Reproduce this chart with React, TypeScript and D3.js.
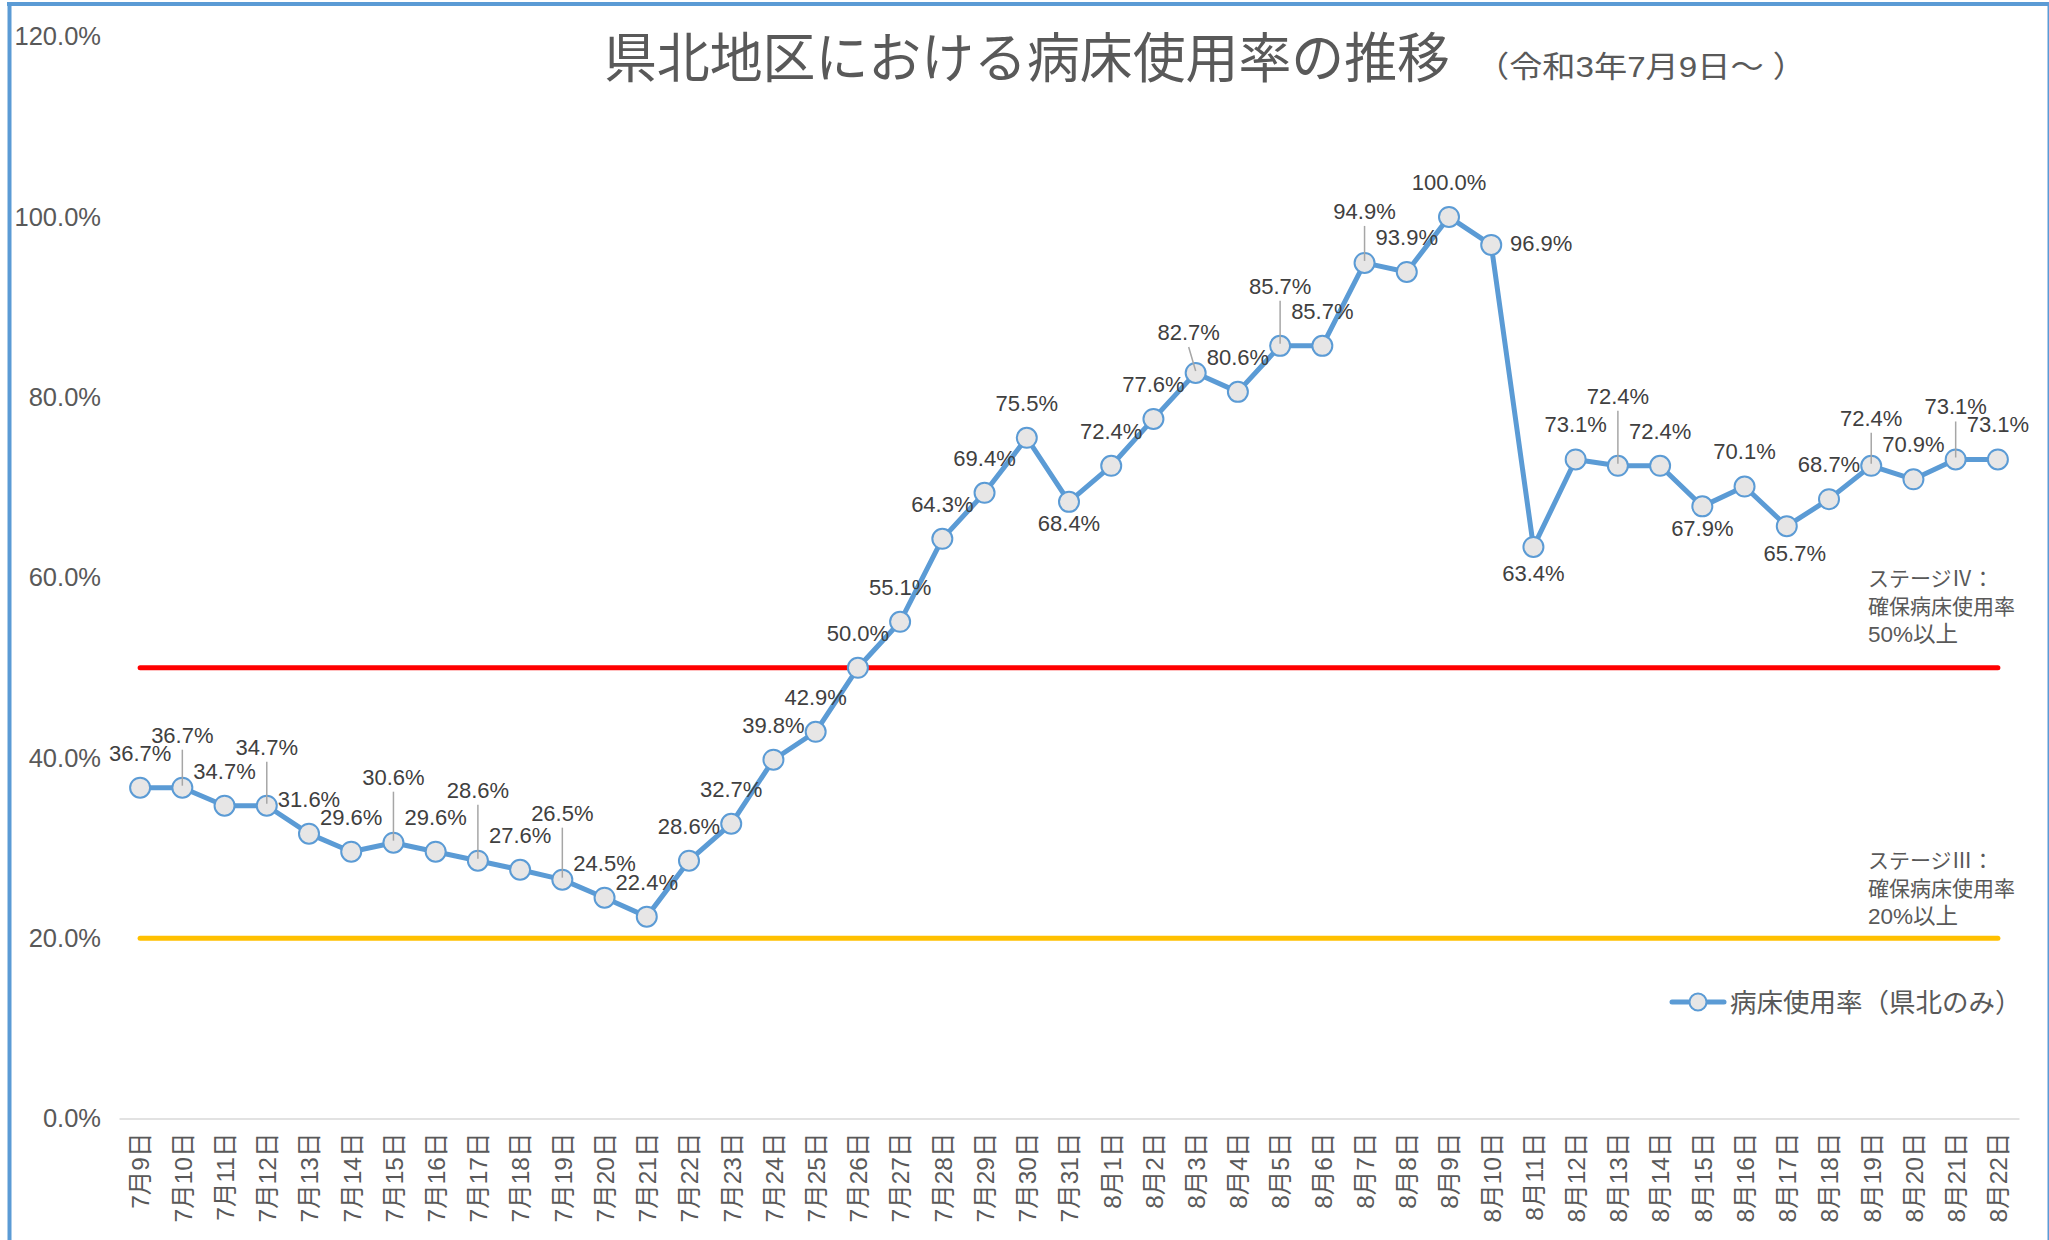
import React, { useEffect, useRef } from 'react';
import * as d3 from 'd3';

// chart data
const dates = [
  '7月9日', '7月10日', '7月11日', '7月12日', '7月13日', '7月14日', '7月15日', '7月16日',
  '7月17日', '7月18日', '7月19日', '7月20日', '7月21日', '7月22日', '7月23日', '7月24日',
  '7月25日', '7月26日', '7月27日', '7月28日', '7月29日', '7月30日', '7月31日',
  '8月1日', '8月2日', '8月3日', '8月4日', '8月5日', '8月6日', '8月7日', '8月8日',
  '8月9日', '8月10日', '8月11日', '8月12日', '8月13日', '8月14日', '8月15日', '8月16日',
  '8月17日', '8月18日', '8月19日', '8月20日', '8月21日', '8月22日'
];
const rates = [
  36.7, 36.7, 34.7, 34.7, 31.6, 29.6, 30.6, 29.6,
  28.6, 27.6, 26.5, 24.5, 22.4, 28.6, 32.7, 39.8,
  42.9, 50.0, 55.1, 64.3, 69.4, 75.5, 68.4,
  72.4, 77.6, 82.7, 80.6, 85.7, 85.7, 94.9, 93.9,
  100.0, 96.9, 63.4, 73.1, 72.4, 72.4, 67.9, 70.1,
  65.7, 68.7, 72.4, 70.9, 73.1, 73.1
];
const yTicks = [0, 20, 40, 60, 80, 100, 120];
const stageValues = [50, 20];
const stageNotes = [
  ['ステージⅣ：', '確保病床使用率', '50%以上'],
  ['ステージⅢ：', '確保病床使用率', '20%以上']
];
const title = '県北地区における病床使用率の推移';
const subtitle = '（令和3年7月9日～ ）';
const seriesName = '病床使用率（県北のみ）';

// hand-moved data labels: index -> [dx, dy, leader line]
const labelMoves: Record<number, [number, number, boolean]> = {
  1: [0, -53, true],
  3: [0, -59, true],
  6: [0, -66, true],
  8: [0, -71, true],
  10: [0, -67, true],
  22: [0, 21, false],
  25: [-7, -41, true],
  27: [0, -60, true],
  29: [0, -52, true],
  32: [50, -2, false],
  33: [0, 26, false],
  35: [0, -70, true],
  37: [0, 22, false],
  39: [8, 27, false],
  41: [0, -48, true],
  43: [0, -53, true]
};

const FONT = '"Liberation Sans", "Noto Sans CJK JP", sans-serif';
const CJK = '"Noto Sans CJK JP", sans-serif';
const BLUE = '#5B9BD5';
const TEXT = '#595959';

export default function App() {
  const ref = useRef<SVGSVGElement>(null);

  useEffect(() => {
    const svg = d3.select(ref.current);
    svg.selectAll('*').remove();

    const width = 2049;
    const height = 1240;

    const x = d3.scalePoint<string>().domain(dates).range([119, 2019]).padding(0.5);
    const y = d3.scaleLinear().domain([0, 120]).range([1118.6, 36.6]);

    svg.append('rect').attr('width', width).attr('height', height).attr('fill', '#fff');

    // frame
    svg.append('rect').attr('x', 7).attr('y', 2).attr('width', width - 7).attr('height', 4).attr('fill', BLUE);
    svg.append('rect').attr('x', 7.5).attr('y', 2).attr('width', 4).attr('height', height).attr('fill', BLUE);
    svg.append('rect').attr('x', 2047.5).attr('y', 2).attr('width', 1.5).attr('height', height).attr('fill', BLUE);

    // title
    svg.append('text')
      .attr('x', 604).attr('y', 78)
      .attr('textLength', 846).attr('lengthAdjust', 'spacingAndGlyphs')
      .style('font-family', CJK).style('font-size', '54px').style('fill', TEXT)
      .text(title);
    svg.append('text')
      .attr('x', 1476).attr('y', 77)
      .attr('textLength', 330).attr('lengthAdjust', 'spacingAndGlyphs')
      .style('font-family', FONT).style('font-size', '30px').style('fill', TEXT)
      .text(subtitle);

    // y axis labels
    const yAxis = svg.append('g').attr('transform', 'translate(104,0)')
      .call(d3.axisLeft(y).tickValues(yTicks).tickSize(0).tickPadding(3)
        .tickFormat(d => d3.format('.1f')(d as number) + '%'));
    yAxis.select('.domain').remove();
    yAxis.selectAll('text')
      .style('font-family', FONT).style('font-size', '25.5px').style('fill', TEXT);

    // x axis
    const xAxis = svg.append('g').attr('transform', `translate(0,${y(0)})`)
      .call(d3.axisBottom(x).tickSize(0).tickSizeOuter(0));
    xAxis.select('.domain').attr('stroke', '#D9D9D9').attr('stroke-width', 1.5);
    xAxis.selectAll('text')
      .attr('transform', 'rotate(-90)')
      .attr('x', -14).attr('y', 0).attr('dy', '0.36em')
      .style('text-anchor', 'end')
      .style('font-family', FONT).style('font-size', '24.5px').style('fill', TEXT);

    // stage lines
    const stageColors = ['#FF0000', '#FFC000'];
    const x0 = x(dates[0]) as number;
    const x1 = x(dates[dates.length - 1]) as number;
    stageValues.forEach((v, i) => {
      svg.append('line')
        .attr('x1', x0).attr('x2', x1).attr('y1', y(v)).attr('y2', y(v))
        .attr('stroke', stageColors[i]).attr('stroke-width', 5).attr('stroke-linecap', 'round');
    });

    // stage notes
    const noteTop = [578, 860];
    stageNotes.forEach((lines, i) => {
      lines.forEach((t, j) => {
        svg.append('text')
          .attr('x', 1868).attr('y', noteTop[i] + j * 28).attr('dy', '0.36em')
          .style('font-family', j === 0 ? CJK : FONT).style('font-size', j === 2 ? '22.5px' : '21px')
          .style('fill', TEXT)
          .text(t);
      });
    });

    // series
    const line = d3.line<number>()
      .x((_, i) => x(dates[i]) as number)
      .y(d => y(d));
    svg.append('path').datum(rates)
      .attr('d', line)
      .attr('fill', 'none').attr('stroke', BLUE).attr('stroke-width', 5)
      .attr('stroke-linejoin', 'round');

    svg.append('g').selectAll('circle').data(rates).enter().append('circle')
      .attr('cx', (_, i) => x(dates[i]) as number)
      .attr('cy', d => y(d))
      .attr('r', 10)
      .attr('fill', '#E7E6E6').attr('stroke', BLUE).attr('stroke-width', 2);

    // labels + leaders
    const labels = svg.append('g');
    rates.forEach((v, i) => {
      const px = x(dates[i]) as number;
      const py = y(v);
      const m = labelMoves[i] || [0, -35, false];
      const lx = px + m[0];
      const ly = py + m[1];
      if (m[2]) {
        labels.append('line')
          .attr('x1', lx).attr('y1', ly + 15).attr('x2', px).attr('y2', py - 2)
          .attr('stroke', '#A6A6A6').attr('stroke-width', 1.5);
      }
      labels.append('text')
        .attr('x', lx).attr('y', ly).attr('dy', '0.36em')
        .style('text-anchor', 'middle')
        .style('font-family', FONT).style('font-size', '22px').style('fill', '#404040')
        .text(d3.format('.1f')(v) + '%');
    });

    // legend
    const lg = svg.append('g').attr('transform', 'translate(0,1002)');
    lg.append('line').attr('x1', 1672).attr('x2', 1724).attr('y1', 0).attr('y2', 0)
      .attr('stroke', BLUE).attr('stroke-width', 5).attr('stroke-linecap', 'round');
    lg.append('circle').attr('cx', 1698).attr('cy', 0).attr('r', 8.5)
      .attr('fill', '#E7E6E6').attr('stroke', BLUE).attr('stroke-width', 2);
    lg.append('text').attr('x', 1730).attr('y', 0).attr('dy', '0.37em')
      .style('font-family', FONT).style('font-size', '26.5px').style('fill', TEXT)
      .text(seriesName);
  }, []);

  return (
    <svg
      ref={ref}
      width={2049}
      height={1240}
      style={{ position: 'absolute', left: 0, top: 0 }}
    />
  );
}
